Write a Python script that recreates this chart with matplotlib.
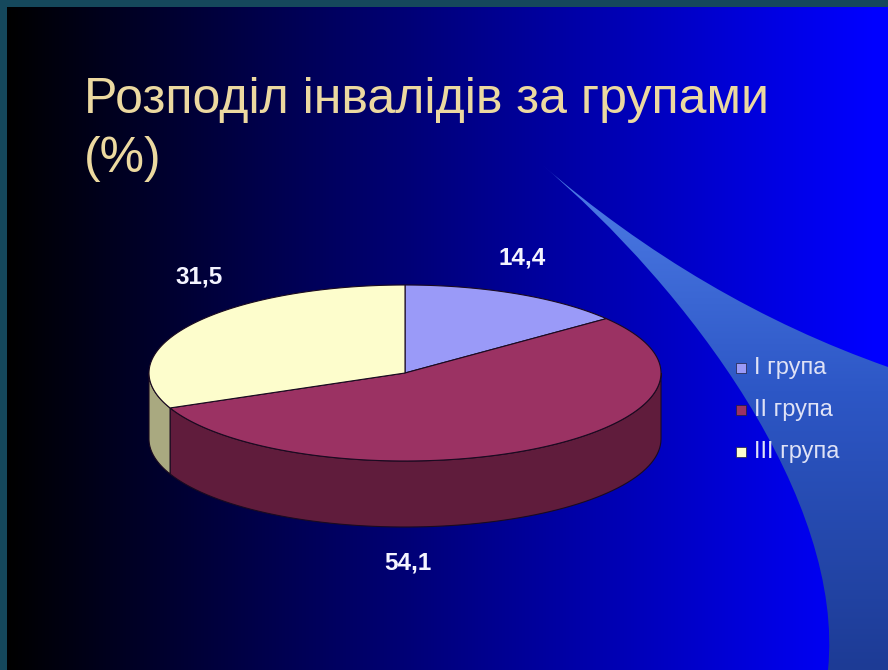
import numpy as np
import matplotlib.pyplot as plt
from matplotlib.patches import Polygon, Rectangle, PathPatch
from matplotlib.path import Path
from matplotlib.colors import to_rgb

plt.rcParams['font.family'] = ['Liberation Sans', 'DejaVu Sans']

# Data
groups = ['I група', 'II група', 'III група']
shares = [14.4, 54.1, 31.5]
value_labels = ['14,4', '54,1', '31,5']
title_lines = ['Розподіл інвалідів за групами', '(%)']

top_colors = ['#9a9af8', '#9b3263', '#fdfdcc']
side_colors = ['#5c5ca8', '#601c3c', '#a9a980']

W, H = 888, 670
fig = plt.figure(figsize=(W / 100, H / 100), dpi=100)
ax = fig.add_axes([0, 0, 1, 1])
ax.set_xlim(0, W)
ax.set_ylim(H, 0)
ax.axis('off')

# slide background: black -> blue, left to right
xs = np.linspace(0, 1, 400)
grad = np.zeros((1, 400, 3))
grad[0, :, 2] = np.clip(xs * 1.02, 0, 1)
ax.imshow(grad, extent=[7, W, H, 7], aspect='auto', zorder=0)

# light blue swoosh on the right, smooth edges
codes = [Path.MOVETO, Path.CURVE3, Path.CURVE3, Path.LINETO, Path.LINETO,
         Path.CURVE4, Path.CURVE4, Path.CURVE4, Path.CLOSEPOLY]
verts = [(540, 163), (700, 301), (888, 367), (888, 670), (828, 670),
         (845, 500), (690, 290), (540, 163), (540, 163)]
swoosh = PathPatch(Path(verts, codes), facecolor='none', edgecolor='none')
ax.add_patch(swoosh)
ys = np.linspace(0, 1, 300)[:, None]
c_top = np.array(to_rgb('#4f7ee8'))
c_mid = np.array(to_rgb('#2d57c6'))
c_bot = np.array(to_rgb('#1d3b95'))
sg = np.where(ys < 0.45, c_top + (c_mid - c_top) * ys / 0.45,
              c_mid + (c_bot - c_mid) * (ys - 0.45) / 0.55)
sg = sg[:, None, :].repeat(2, axis=1)
im = ax.imshow(sg, extent=[540, 888, 670, 163], aspect='auto', zorder=1)
im.set_clip_path(swoosh)

# 3D pie geometry
cx, cy, rx, ry, depth = 405, 373, 256, 88, 66


def ell(t, dy=0):
    t = np.radians(t)
    return np.column_stack([cx + rx * np.cos(t), cy - ry * np.sin(t) + dy])


cum = np.concatenate([[0], np.cumsum(shares)])
starts = 90 - cum[:-1] * 3.6
ends = 90 - cum[1:] * 3.6

# front side walls
for a0, a1, sc in zip(starts, ends, side_colors):
    for k in (-1, 0, 1):
        lo, hi = max(a1, -180 + 360 * k), min(a0, 360 * k)
        if hi <= lo:
            continue
        t = np.linspace(hi, lo, 80)
        pts = np.vstack([ell(t), ell(t[::-1], depth)])
        ax.add_patch(Polygon(pts, closed=True, facecolor=sc,
                             edgecolor='#1a0a20', lw=0.8, zorder=3))

# top face
for a0, a1, tc in zip(starts, ends, top_colors):
    t = np.linspace(a0, a1, 120)
    pts = np.vstack([[cx, cy], ell(t)])
    ax.add_patch(Polygon(pts, closed=True, facecolor=tc,
                         edgecolor='#1a0a20', lw=0.8, zorder=4))

# value labels
label_pos = [(522, 258), (408, 563), (199, 277)]
for (lx, ly), txt in zip(label_pos, value_labels):
    ax.text(lx, ly, txt, color='#f4f4ff', fontsize=17.5, fontweight='bold',
            ha='center', va='center', zorder=6)

# legend
for i, (g, tc) in enumerate(zip(groups, top_colors)):
    y = 368 + 42 * i
    ax.add_patch(Rectangle((736, y - 5), 10, 10, facecolor=tc,
                           edgecolor='#202040', lw=0.5, zorder=6))
    ax.text(754, y, g, color='#dfe2f6', fontsize=17, ha='left',
            va='center', zorder=6)

# title
for line, base in zip(title_lines, [113, 172]):
    ax.text(84, base, line, color='#ecd9a0', fontsize=36, ha='left',
            va='baseline', zorder=6)

# frame strips on top and left
ax.add_patch(Rectangle((0, 0), W, 7, facecolor='#15485c', lw=0, zorder=7))
ax.add_patch(Rectangle((0, 0), 7, H, facecolor='#15485c', lw=0, zorder=7))

fig.savefig('out.png', dpi=100)
